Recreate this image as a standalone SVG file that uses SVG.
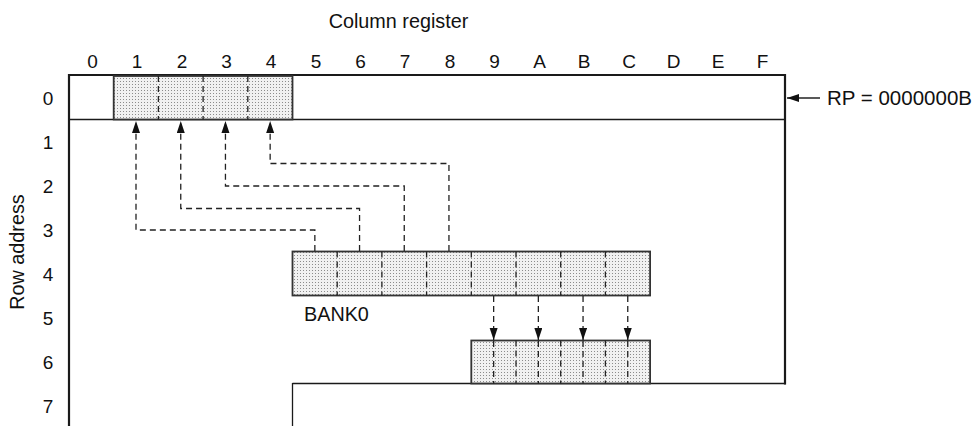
<svg xmlns="http://www.w3.org/2000/svg" width="976" height="426" viewBox="0 0 976 426">
<style>
text{font-family:"Liberation Sans",Arial,sans-serif;font-size:19px;fill:#111}
.hd{text-anchor:middle}
.rl{text-anchor:middle}
.big{font-size:19.8px}
.frame{stroke:#1a1a1a;stroke-width:2.2;fill:none}
.thin{stroke:#1a1a1a;stroke-width:1.3;fill:none}
.box{fill:url(#dots);stroke:#333;stroke-width:1.8}
.div{stroke:#222;stroke-width:1.3;stroke-dasharray:6 4;fill:none}
.con{stroke:#222;stroke-width:1.3;stroke-dasharray:6 4;fill:none}
</style>
<defs>
<pattern id="dots" width="3" height="3" patternUnits="userSpaceOnUse">
<rect width="3" height="3" fill="#f1f1f1"/>
<rect width="1" height="1" fill="#8c8c8c"/>
</pattern>
<marker id="ah" markerWidth="14" markerHeight="9" refX="12" refY="4" orient="auto" markerUnits="userSpaceOnUse">
<path d="M0,0 L12,4 L0,8 z" fill="#111"/>
</marker>
</defs>
<rect width="976" height="426" fill="#fff"/>

<g id="titles">
<text x="398.5" y="28" class="hd big">Column register</text>
<text transform="translate(24,252) rotate(-90)" class="hd big">Row address</text>
</g>

<g id="column-labels">
<text x="92.5" y="68" class="hd">0</text>
<text x="137" y="68" class="hd">1</text>
<text x="182" y="68" class="hd">2</text>
<text x="226.5" y="68" class="hd">3</text>
<text x="271" y="68" class="hd">4</text>
<text x="316" y="68" class="hd">5</text>
<text x="360.5" y="68" class="hd">6</text>
<text x="405" y="68" class="hd">7</text>
<text x="450" y="68" class="hd">8</text>
<text x="494.5" y="68" class="hd">9</text>
<text x="539.5" y="68" class="hd">A</text>
<text x="584" y="68" class="hd">B</text>
<text x="629" y="68" class="hd">C</text>
<text x="673.5" y="68" class="hd">D</text>
<text x="718" y="68" class="hd">E</text>
<text x="762.5" y="68" class="hd">F</text>
</g>

<g id="row-labels">
<text x="48" y="105" class="rl">0</text>
<text x="48" y="149" class="rl">1</text>
<text x="48" y="193" class="rl">2</text>
<text x="48" y="237" class="rl">3</text>
<text x="48" y="281" class="rl">4</text>
<text x="48" y="325" class="rl">5</text>
<text x="48" y="369" class="rl">6</text>
<text x="48" y="413" class="rl">7</text>
</g>

<g id="frame">
<line x1="69" y1="75" x2="785" y2="75" class="frame"/>
<line x1="69" y1="74" x2="69" y2="426" class="frame"/>
<line x1="785" y1="74" x2="785" y2="384.5" class="frame"/>
<line x1="69" y1="119.5" x2="785" y2="119.5" class="thin"/>
<line x1="292.5" y1="383.5" x2="786" y2="383.5" class="thin" stroke-width="1.6"/>
<line x1="292.5" y1="383" x2="292.5" y2="426" class="thin" stroke-width="1.6"/>
</g>

<g id="row0-cells">
<rect x="113.7" y="76" width="178.8" height="43.5" class="box"/>
<line x1="158.4" y1="76" x2="158.4" y2="119.5" class="div"/>
<line x1="203.1" y1="76" x2="203.1" y2="119.5" class="div"/>
<line x1="247.8" y1="76" x2="247.8" y2="119.5" class="div"/>
</g>

<g id="bank0">
<rect x="292.5" y="251.5" width="357.6" height="44" class="box"/>
<line x1="337.2" y1="251.5" x2="337.2" y2="295.5" class="div"/>
<line x1="381.9" y1="251.5" x2="381.9" y2="295.5" class="div"/>
<line x1="426.6" y1="251.5" x2="426.6" y2="295.5" class="div"/>
<line x1="471.3" y1="251.5" x2="471.3" y2="295.5" class="div"/>
<line x1="516" y1="251.5" x2="516" y2="295.5" class="div"/>
<line x1="560.7" y1="251.5" x2="560.7" y2="295.5" class="div"/>
<line x1="605.4" y1="251.5" x2="605.4" y2="295.5" class="div"/>
<text x="304" y="321" class="big">BANK0</text>
</g>

<g id="row6-cells">
<rect x="471.3" y="340.5" width="178.8" height="43" class="box"/>
<line x1="516" y1="340.5" x2="516" y2="383.5" class="div"/>
<line x1="560.7" y1="340.5" x2="560.7" y2="383.5" class="div"/>
<line x1="605.4" y1="340.5" x2="605.4" y2="383.5" class="div"/>
<line x1="493.65" y1="341" x2="493.65" y2="383.5" class="div"/>
<line x1="538.35" y1="341" x2="538.35" y2="383.5" class="div"/>
<line x1="583.05" y1="341" x2="583.05" y2="383.5" class="div"/>
<line x1="627.75" y1="341" x2="627.75" y2="383.5" class="div"/>
</g>

<g id="rp-label">
<text x="827" y="105" style="font-size:20.5px">RP = 0000000B</text>
</g>

<g id="connectors">
<polyline points="314.85,251 314.85,230 136,230 136,121" class="con" marker-end="url(#ah)"/>
<polyline points="359.55,251 359.55,208.5 180.75,208.5 180.75,121" class="con" marker-end="url(#ah)"/>
<polyline points="404.25,251 404.25,186 225.45,186 225.45,121" class="con" marker-end="url(#ah)"/>
<polyline points="448.95,251 448.95,163.5 270.15,163.5 270.15,121" class="con" marker-end="url(#ah)"/>
<line x1="493.65" y1="296" x2="493.65" y2="340" class="con" marker-end="url(#ah)"/>
<line x1="538.35" y1="296" x2="538.35" y2="340" class="con" marker-end="url(#ah)"/>
<line x1="583.05" y1="296" x2="583.05" y2="340" class="con" marker-end="url(#ah)"/>
<line x1="627.75" y1="296" x2="627.75" y2="340" class="con" marker-end="url(#ah)"/>
<line x1="820" y1="98" x2="787" y2="98" stroke="#222" stroke-width="1.3" marker-end="url(#ah)"/>
</g>
</svg>
